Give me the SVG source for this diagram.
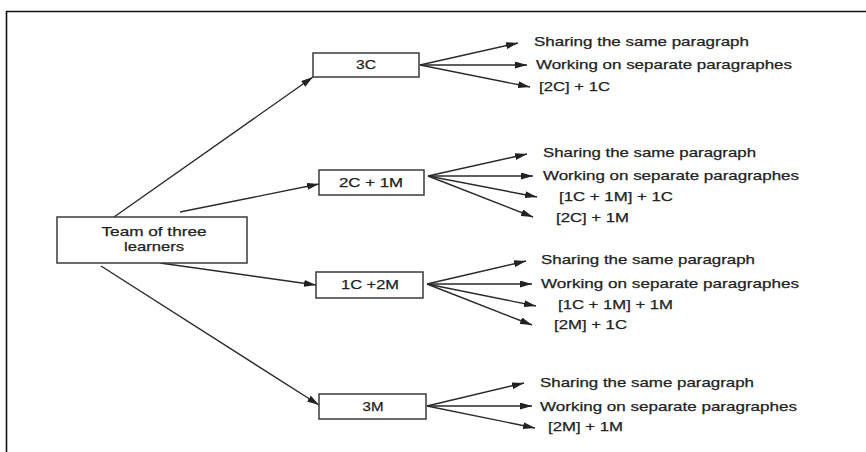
<svg xmlns="http://www.w3.org/2000/svg" width="866" height="452" viewBox="0 0 866 452">
<style>
  .box { fill: #fff; stroke: #3a3a3a; stroke-width: 1.5; }
  .edge { fill: none; stroke: #2a2a2a; stroke-width: 1.4; marker-end: url(#ah); }
  text { font-family: "Liberation Sans", Arial, Helvetica, sans-serif; font-size: 13.5px; fill: #222; stroke: #222; stroke-width: 0.25; }
  .c { text-anchor: middle; }
</style>
<defs>
  <marker id="ah" markerUnits="userSpaceOnUse" markerWidth="12" markerHeight="7" refX="12" refY="3.5" orient="auto">
    <path d="M0,0 L12,3.5 L0,7 z" fill="#222"/>
  </marker>
</defs>
<rect x="0" y="0" width="866" height="452" fill="#fff"/>
<g id="frame" fill="none" stroke="#111" stroke-width="1.6">
  <path d="M6.5,452 L6.5,11.5 L866,11.5"/>
</g>

<g id="connectors">
  <line class="edge" x1="114" y1="217" x2="313" y2="77"/>
  <line class="edge" x1="180" y1="212" x2="319" y2="184"/>
  <line class="edge" x1="160" y1="263" x2="316" y2="285"/>
  <line class="edge" x1="101" y1="266" x2="319" y2="405"/>

  <line class="edge" x1="420" y1="65" x2="518" y2="43"/>
  <line class="edge" x1="420" y1="65" x2="527" y2="65"/>
  <line class="edge" x1="420" y1="65" x2="530" y2="87"/>

  <line class="edge" x1="428" y1="176" x2="527" y2="154"/>
  <line class="edge" x1="428" y1="176" x2="533" y2="176"/>
  <line class="edge" x1="428" y1="176" x2="537" y2="197"/>
  <line class="edge" x1="428" y1="176" x2="533" y2="217"/>

  <line class="edge" x1="427" y1="284" x2="526" y2="261"/>
  <line class="edge" x1="427" y1="284" x2="532" y2="284"/>
  <line class="edge" x1="427" y1="284" x2="536" y2="306"/>
  <line class="edge" x1="427" y1="284" x2="532" y2="325"/>

  <line class="edge" x1="427" y1="406" x2="524" y2="383"/>
  <line class="edge" x1="427" y1="406" x2="532" y2="406"/>
  <line class="edge" x1="427" y1="406" x2="535" y2="428"/>
</g>

<g id="team">
  <rect class="box" x="57" y="217" width="190" height="46"/>
  <text class="c" x="154" y="236" textLength="105" lengthAdjust="spacingAndGlyphs">Team of three</text>
  <text class="c" x="154" y="251" textLength="60" lengthAdjust="spacingAndGlyphs">learners</text>
</g>

<g id="n3c">
  <rect class="box" x="313" y="53" width="106" height="24"/>
  <text class="c" x="366" y="69" textLength="20" lengthAdjust="spacingAndGlyphs">3C</text>
</g>
<g id="n2c1m">
  <rect class="box" x="319" y="170" width="105" height="25"/>
  <text class="c" x="371" y="187" textLength="64" lengthAdjust="spacingAndGlyphs">2C + 1M</text>
</g>
<g id="n1c2m">
  <rect class="box" x="316" y="272" width="107" height="26"/>
  <text class="c" x="370" y="289" textLength="58" lengthAdjust="spacingAndGlyphs">1C +2M</text>
</g>
<g id="n3m">
  <rect class="box" x="319" y="394" width="107" height="25"/>
  <text class="c" x="373" y="411" textLength="21" lengthAdjust="spacingAndGlyphs">3M</text>
</g>

<g id="labels3c">
  <text x="534" y="46" textLength="215" lengthAdjust="spacingAndGlyphs">Sharing the same paragraph</text>
  <text x="536" y="69" textLength="256" lengthAdjust="spacingAndGlyphs">Working on separate paragraphes</text>
  <text x="539" y="91" textLength="71" lengthAdjust="spacingAndGlyphs">[2C] + 1C</text>
</g>
<g id="labels2c1m">
  <text x="543" y="157" textLength="213" lengthAdjust="spacingAndGlyphs">Sharing the same paragraph</text>
  <text x="543" y="180" textLength="256" lengthAdjust="spacingAndGlyphs">Working on separate paragraphes</text>
  <text x="559" y="201" textLength="114" lengthAdjust="spacingAndGlyphs">[1C + 1M] + 1C</text>
  <text x="556" y="222" textLength="73" lengthAdjust="spacingAndGlyphs">[2C] + 1M</text>
</g>
<g id="labels1c2m">
  <text x="541" y="264" textLength="214" lengthAdjust="spacingAndGlyphs">Sharing the same paragraph</text>
  <text x="541" y="288" textLength="258" lengthAdjust="spacingAndGlyphs">Working on separate paragraphes</text>
  <text x="558" y="309" textLength="115" lengthAdjust="spacingAndGlyphs">[1C + 1M] + 1M</text>
  <text x="554" y="329" textLength="73" lengthAdjust="spacingAndGlyphs">[2M] + 1C</text>
</g>
<g id="labels3m">
  <text x="540" y="387" textLength="214" lengthAdjust="spacingAndGlyphs">Sharing the same paragraph</text>
  <text x="540" y="411" textLength="257" lengthAdjust="spacingAndGlyphs">Working on separate paragraphes</text>
  <text x="548" y="431" textLength="75" lengthAdjust="spacingAndGlyphs">[2M] + 1M</text>
</g>
</svg>
